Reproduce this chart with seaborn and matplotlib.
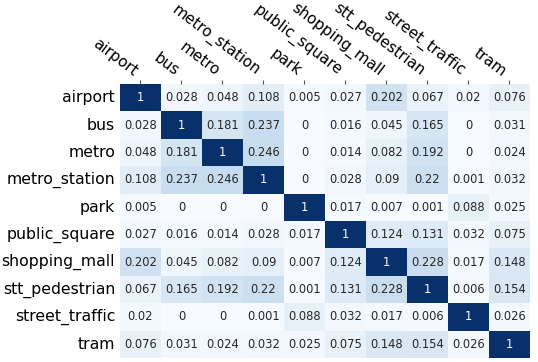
import numpy as np
import pandas as pd
import seaborn as sns
import matplotlib.pyplot as plt

labels = ['airport', 'bus', 'metro', 'metro_station', 'park', 'public_square',
          'shopping_mall', 'stt_pedestrian', 'street_traffic', 'tram']

airport = [1, 0.028, 0.048, 0.108, 0.005, 0.027, 0.202, 0.067, 0.02, 0.076]
bus = [0.028, 1, 0.181, 0.237, 0, 0.016, 0.045, 0.165, 0, 0.031]
metro = [0.048, 0.181, 1, 0.246, 0, 0.014, 0.082, 0.192, 0, 0.024]
metro_station = [0.108, 0.237, 0.246, 1, 0, 0.028, 0.09, 0.22, 0.001, 0.032]
park = [0.005, 0, 0, 0, 1, 0.017, 0.007, 0.001, 0.088, 0.025]
public_square = [0.027, 0.016, 0.014, 0.028, 0.017, 1, 0.124, 0.131, 0.032, 0.075]
shopping_mall = [0.202, 0.045, 0.082, 0.09, 0.007, 0.124, 1, 0.228, 0.017, 0.148]
stt_pedestrian = [0.067, 0.165, 0.192, 0.22, 0.001, 0.131, 0.228, 1, 0.006, 0.154]
street_traffic = [0.02, 0, 0, 0.001, 0.088, 0.032, 0.017, 0.006, 1, 0.026]
tram = [0.076, 0.031, 0.024, 0.032, 0.025, 0.075, 0.148, 0.154, 0.026, 1]

rows = [airport, bus, metro, metro_station, park, public_square,
        shopping_mall, stt_pedestrian, street_traffic, tram]
df = pd.DataFrame(rows, index=labels, columns=labels)

fig = plt.figure(figsize=(5.38, 3.62), dpi=100)
ax = fig.add_axes([0.223, 0.011, 0.762, 0.757])

sns.heatmap(df, ax=ax, cmap='Blues', vmin=0, vmax=1, cbar=False,
            annot=True, fmt='g', annot_kws={'size': 8.3})

ax.xaxis.tick_top()
ax.tick_params(axis='x', length=3, pad=0.5, color='#555555')
ax.tick_params(axis='y', length=0, labelsize=11.3)
plt.setp(ax.get_xticklabels(), rotation=-37, ha='right', fontsize=11)
plt.setp(ax.get_yticklabels(), rotation=0)
ax.set_xlabel('')
ax.set_ylabel('')

fig.savefig('out.png', dpi=100)
